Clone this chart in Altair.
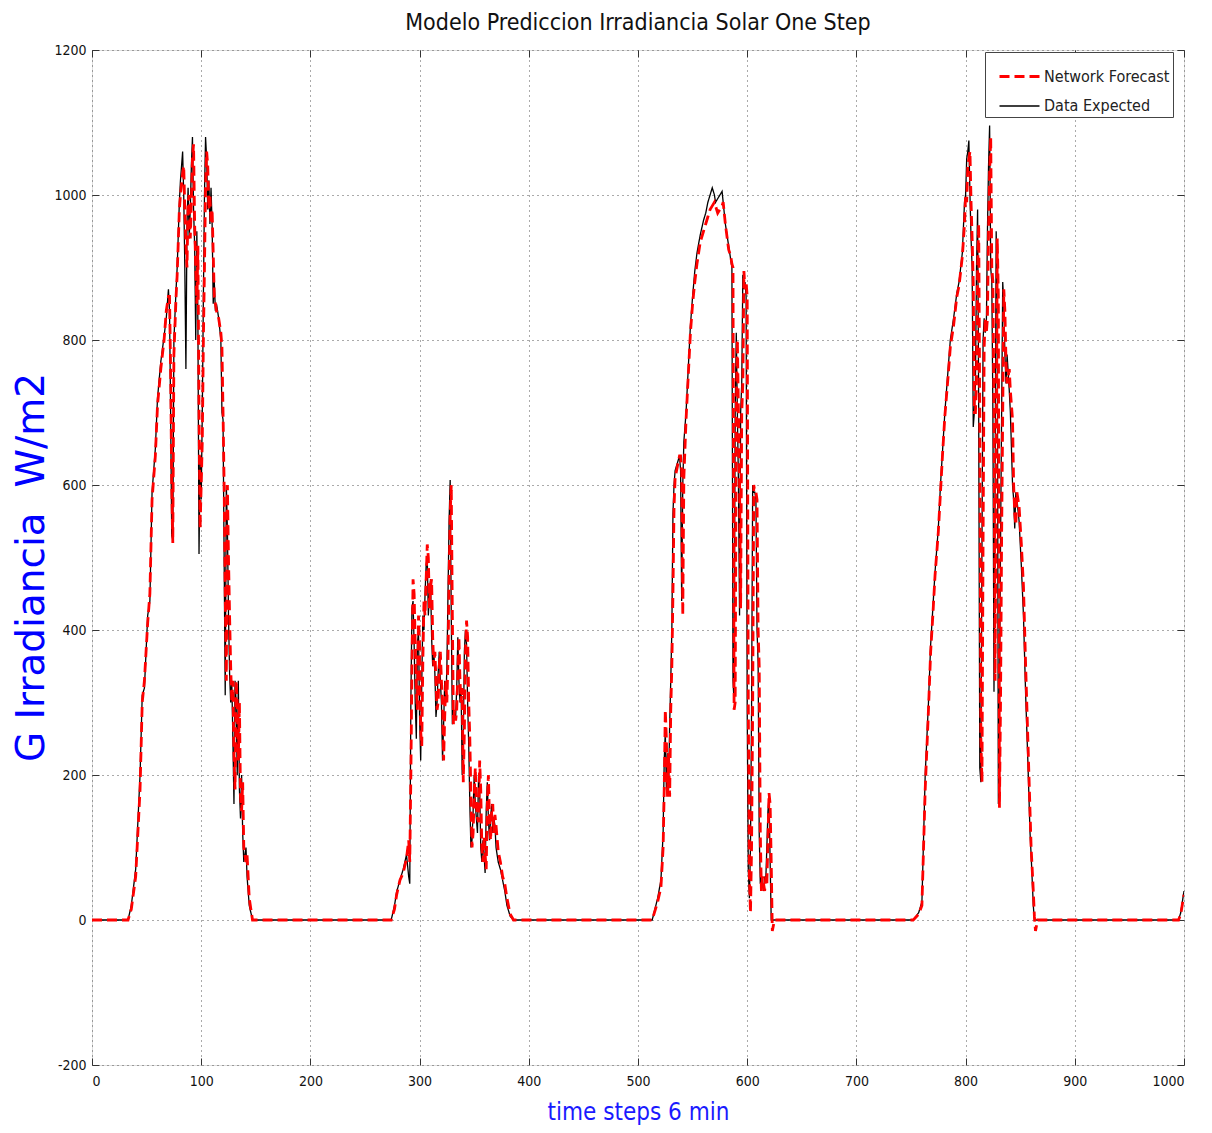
import altair as alt
import pandas as pd

# time step, data expected, network forecast (breakpoints)
time_steps = [
    0, 33, 36, 40, 44, 46, 48, 51, 53, 55, 58, 60, 63, 66, 68, 70, 71, 72, 73, 74, 75, 77, 78, 80, 81, 83, 84, 85, 86, 87,
    88, 89, 90, 91, 92, 93, 94, 95, 96, 97, 98, 99, 100, 101, 102, 103, 104, 105, 106, 107, 108, 109, 110, 111, 112, 113,
    114, 116, 118, 119, 120, 121, 122, 123, 124, 125, 126, 127, 128, 129, 130, 131, 132, 133, 134, 135, 136, 137, 138,
    139, 141, 142, 144, 147,
    270, 274, 277, 279, 282, 285, 288, 290, 291, 292, 293, 294, 295, 296, 297, 298, 299, 300, 301, 302, 303, 304, 305,
    306, 307, 308, 309, 310, 311, 312, 313, 314, 315, 316, 317, 318, 319, 320, 321, 322, 323, 324, 325, 326, 327, 328,
    329, 330, 331, 332, 333, 334, 335, 336, 337, 338, 339, 340, 341, 342, 343, 344, 345, 346, 347, 348, 349, 350, 351,
    352, 353, 354, 355, 356, 357, 358, 359, 360, 361, 362, 363, 364, 365, 366, 367, 368, 369, 370, 372, 374, 376, 378,
    380, 383, 386,
    513, 518, 521, 523, 524, 525, 526, 527, 528, 529, 530, 531, 532, 533, 534, 536, 538, 539, 540, 541, 542, 544, 546,
    548, 550, 552, 554, 557, 560, 562, 564, 566, 568, 570, 571, 573, 575, 577, 578, 580, 583, 585, 586, 587, 588, 589,
    590, 591, 592, 593, 594, 595, 596, 597, 598, 599, 600, 601, 602, 603, 604, 605, 606, 607, 608, 609, 610, 611, 612,
    613, 614, 615, 616, 617, 618, 619, 620, 621, 622, 623, 625,
    752, 757, 760, 763, 766, 768, 770, 772, 775, 777, 779, 781, 784, 786, 789, 792, 794, 797, 799, 800, 801, 802, 803,
    804, 805, 806, 807, 808, 809, 810, 811, 812, 813, 814, 815, 816, 817, 818, 819, 820, 821, 822, 823, 824, 825, 826,
    827, 828, 829, 830, 831, 832, 833, 834, 835, 836, 837, 838, 840, 841, 843, 844, 845, 846, 847, 849, 851, 853, 855,
    857, 859, 860, 862, 863, 864, 866, 995, 997, 1000,
]

data_expected = [
    0, 0, 20, 70, 200, 310, 320, 420, 440, 590, 650, 720, 770, 805, 830, 870, 840, 700, 530, 525, 800, 870, 900, 990,
    1020, 1060, 1000, 900, 760, 960, 1010, 940, 980, 1040, 1080, 980, 930, 800, 950, 820, 505, 640, 580, 700, 860, 1000,
    1080, 1050, 980, 1020, 960, 1010, 960, 850, 880, 840, 850, 830, 800, 700, 690, 500, 310, 600, 540, 420, 340, 300,
    330, 250, 160, 330, 300, 200, 330, 180, 140, 200, 120, 80, 100, 60, 20, 0,
    0, 0, 20, 39, 55, 70, 90, 60, 50, 300, 430, 440, 380, 300, 250, 380, 400, 280, 220, 330, 420, 400, 450, 490, 500,
    420, 450, 470, 390, 350, 370, 340, 280, 300, 340, 370, 330, 300, 220, 270, 330, 300, 350, 450, 550, 607, 420, 270,
    290, 280, 280, 320, 390, 330, 300, 320, 200, 250, 370, 400, 380, 300, 240, 160, 100, 110, 150, 200, 160, 140, 120,
    200, 180, 100, 80, 110, 90, 65, 150, 190, 140, 110, 140, 160, 120, 140, 130, 100, 80, 70, 55, 40, 20, 5, 0,
    0, 30, 55, 120, 220, 260, 180, 230, 180, 270, 330, 400, 560, 600, 620, 630, 640, 620, 440, 600, 660, 700, 760, 820,
    860, 895, 920, 945, 965, 975, 990, 1000, 1010, 1000, 990, 995, 1000, 1005, 990, 960, 930, 910, 900, 330, 300, 700,
    810, 700, 600, 420, 700, 740, 890, 870, 880, 860, 290, 70, 30, 100, 290, 600, 590, 590, 580, 400, 355, 120, 50, 60,
    50, 40, 60, 55, 100, 150, 170, 80, 0, 0, 0,
    0, 10, 25, 200, 300, 380, 430, 480, 540, 600, 650, 700, 760, 800, 830, 865, 880, 920, 990, 1000, 1050, 1060, 1075,
    1000, 940, 900, 680, 700, 740, 900, 980, 700, 210, 190, 520, 800, 830, 810, 820, 950, 1040, 1096, 900, 880, 700,
    315, 600, 950, 860, 160, 300, 520, 700, 880, 850, 780, 740, 780, 730, 700, 600, 580, 540, 590, 580, 550, 490, 420,
    310, 220, 120, 90, 20, 0, 0, 0, 0, 10, 40,
]

network_forecast = [
    0, 0, 15, 60, 180, 300, 330, 410, 450, 580, 640, 710, 760, 800, 840, 860, 860, 760, 600, 520, 780, 860, 890, 980,
    1000, 1030, 1040, 980, 930, 900, 990, 1000, 940, 990, 1050, 1070, 960, 900, 850, 930, 700, 540, 600, 660, 800, 900,
    1010, 1060, 1040, 980, 1000, 960, 980, 920, 860, 850, 840, 830, 810, 790, 700, 600, 450, 330, 600, 500, 420, 350,
    300, 330, 230, 180, 330, 300, 220, 300, 170, 150, 190, 100, 80, 90, 30, 0,
    0, 0, 15, 35, 55, 65, 85, 110, 80, 200, 350, 470, 450, 380, 320, 290, 420, 380, 260, 240, 360, 440, 420, 470, 518,
    500, 430, 460, 470, 390, 350, 370, 330, 290, 300, 350, 370, 330, 300, 220, 280, 330, 300, 360, 470, 560, 600, 420,
    270, 290, 275, 290, 340, 390, 330, 300, 320, 190, 260, 370, 413, 390, 300, 250, 170, 100, 120, 170, 210, 160, 140,
    135, 220, 180, 100, 80, 115, 90, 70, 160, 200, 140, 110, 150, 160, 120, 145, 130, 95, 80, 60, 50, 30, 8, 0,
    0, 25, 45, 100, 180, 290, 250, 170, 230, 170, 290, 350, 450, 570, 610, 625, 640, 640, 620, 420, 610, 690, 750, 810,
    850, 880, 905, 935, 950, 960, 970, 980, 985, 990, 985, 975, 980, 985, 990, 960, 925, 915, 905, 900, 290, 300, 700,
    800, 700, 600, 430, 700, 740, 895, 870, 880, 860, 300, 60, 10, 100, 290, 600, 590, 590, 580, 400, 350, 120, 40, 60,
    50, 40, 60, 50, 110, 175, 160, 80, -15, 0,
    0, 8, 20, 180, 290, 370, 420, 475, 535, 590, 645, 695, 750, 790, 820, 860, 875, 915, 960, 1000, 990, 1040, 1050,
    1060, 990, 940, 880, 700, 700, 740, 900, 960, 700, 250, 190, 520, 790, 830, 810, 830, 950, 1030, 1080, 900, 880,
    700, 330, 600, 940, 860, 155, 300, 530, 700, 870, 840, 770, 740, 760, 730, 690, 600, 560, 545, 590, 570, 520, 460,
    350, 250, 150, 100, 40, 5, -15, 0, 0, 8, 35,
]

x_ticks = list(range(0, 1001, 100))
y_ticks = list(range(-200, 1201, 200))

n = len(time_steps)
df = pd.DataFrame({
    "t": time_steps * 2,
    "G": data_expected + network_forecast,
    "serie": ["Data Expected"] * n + ["Network Forecast"] * n,
})

NARROW = "DejaVu Sans Condensed, Liberation Sans Narrow, sans-serif"
domain = ["Network Forecast", "Data Expected"]
TK = 7  # inward tick length

legend = alt.Legend(
    title=None, orient="none", legendX=893, legendY=2,
    strokeColor="#444", fillColor="white", padding=3,
    labelFont=NARROW, labelFontSize=16, labelColor="#222",
    symbolType="stroke", symbolSize=1600, symbolOffset=10, rowPadding=0, labelOffset=3,
)

color = alt.Color("serie:N", scale=alt.Scale(domain=domain, range=["#ff0000", "#000000"]), legend=legend)
dash = alt.StrokeDash("serie:N", scale=alt.Scale(domain=domain, range=[[10, 5], [1, 0]]), legend=legend)
swidth = alt.StrokeWidth("serie:N", scale=alt.Scale(domain=domain, range=[2.8, 1.3]), legend=legend)

xscale = alt.Scale(domain=[0, 1000], nice=False, zero=False)
yscale = alt.Scale(domain=[-200, 1200], nice=False, zero=False)

x_main = alt.X(
    "t:Q", scale=xscale,
    axis=alt.Axis(
        values=x_ticks, title="time steps 6 min", titleColor="#1a1aff",
        titleFont=NARROW, titleFontSize=24, titleFontWeight="normal",
        titleX=546, titleY=47 + TK, titleBaseline="middle",
        labelFont=NARROW, labelFontSize=14, labelColor="#111", labelPadding=9,
        labelExpr="datum.value + ''",
        offset=-TK, ticks=True, tickSize=TK, tickColor="#333",
        domain=False, gridDash=[1, 4], gridColor="#555", gridOpacity=1,
    ),
)
y_main = alt.Y(
    "G:Q", scale=yscale,
    axis=alt.Axis(
        values=y_ticks, title="G Irradiancia\u00a0 W/m2", titleColor="#0000ff",
        titleFont="DejaVu Sans, sans-serif", titleFontSize=39, titleFontWeight="normal",
        titleX=-49 - TK, titleY=517, titleBaseline="alphabetic", titleAngle=270,
        labelFont=NARROW, labelFontSize=14, labelColor="#111", labelPadding=6,
        labelExpr="datum.value + ''",
        offset=-TK, ticks=True, tickSize=TK, tickColor="#333",
        domain=False, gridDash=[1, 4], gridColor="#555", gridOpacity=1,
    ),
)
x_top = alt.X(
    "t:Q", scale=xscale,
    axis=alt.Axis(values=x_ticks, orient="top", title=None, labels=False, grid=False, domain=False,
                  offset=-TK, ticks=True, tickSize=TK, tickColor="#333"),
)
y_right = alt.Y(
    "G:Q", scale=yscale,
    axis=alt.Axis(values=y_ticks, orient="right", title=None, labels=False, grid=False, domain=False,
                  offset=-TK, ticks=True, tickSize=TK, tickColor="#333"),
)

base = alt.Chart(df)
black = base.transform_filter(alt.datum.serie == "Data Expected").mark_line(clip=True).encode(
    x=x_main, y=y_main, color=color, strokeDash=dash, strokeWidth=swidth)
red = base.transform_filter(alt.datum.serie == "Network Forecast").mark_line(clip=True).encode(
    x=x_top, y=y_right, color=color, strokeDash=dash, strokeWidth=swidth)

chart = alt.layer(black, red).resolve_axis(x="independent", y="independent").properties(
    width=1092, height=1015,
    autosize=alt.AutoSizeParams(type="none"),
    padding={"left": 84, "top": 42, "right": 12, "bottom": 60},
    title=alt.TitleParams(
        "Modelo Prediccion Irradiancia Solar One Step", font=NARROW, fontSize=23,
        fontWeight="normal", color="#111", offset=8, anchor="middle",
    ),
).configure_view(stroke="#444", strokeWidth=1.5).configure(background="white")

chart.save("out.html", embed_options={"renderer": "svg", "actions": False})
